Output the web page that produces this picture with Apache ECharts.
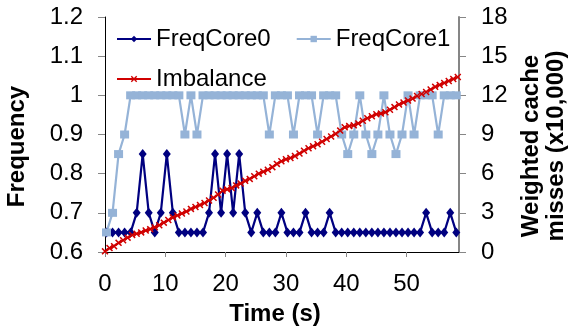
<!DOCTYPE html>
<html>
<head>
<meta charset="utf-8">
<script src="https://cdn.jsdelivr.net/npm/echarts@6/dist/echarts.min.js"></script>
<style>
  html, body { margin: 0; padding: 0; background: #fff; }
  #chart { width: 569px; height: 327px; }
</style>
</head>
<body>
<div id="chart"></div>
<script>
// sample times (s) of the two frequency series
const freqTime = [0.25, 1.25, 2.25, 3.25, 4.25, 5.25, 6.25, 7.25, 8.25, 9.25,
  10.25, 11.25, 12.25, 13.25, 14.25, 15.25, 16.25, 17.25, 18.25, 19.25,
  20.25, 21.25, 22.25, 23.25, 24.25, 25.25, 26.25, 27.25, 28.25, 29.25,
  30.25, 31.25, 32.25, 33.25, 34.25, 35.25, 36.25, 37.25, 38.25, 39.25,
  40.25, 41.25, 42.25, 43.25, 44.25, 45.25, 46.25, 47.25, 48.25, 49.25,
  50.25, 51.25, 52.25, 53.25, 54.25, 55.25, 56.25, 57.25, 58.25]

const freqCore0 = [0.65, 0.65, 0.65, 0.65, 0.65, 0.7, 0.85, 0.7, 0.65, 0.7,
  0.85, 0.7, 0.65, 0.65, 0.65, 0.65, 0.65, 0.7, 0.85, 0.7,
  0.85, 0.7, 0.85, 0.7, 0.65, 0.7, 0.65, 0.65, 0.65, 0.7,
  0.65, 0.65, 0.65, 0.7, 0.65, 0.65, 0.65, 0.7, 0.65, 0.65,
  0.65, 0.65, 0.65, 0.65, 0.65, 0.65, 0.65, 0.65, 0.65, 0.65,
  0.65, 0.65, 0.65, 0.7, 0.65, 0.65, 0.65, 0.7, 0.65]

const freqCore1 = [0.65, 0.7, 0.85, 0.9, 1, 1, 1, 1, 1, 1,
  1, 1, 1, 0.9, 1, 0.9, 1, 1, 1, 1,
  1, 1, 1, 1, 1, 1, 1, 0.9, 1, 1,
  1, 0.9, 1, 1, 1, 0.9, 1, 1, 1, 0.9,
  0.85, 0.9, 1, 0.9, 0.85, 0.9, 1, 0.9, 0.85, 0.9,
  1, 0.9, 1, 1, 1, 0.9, 1, 1, 1]

// imbalance is sampled more often
const imbTime = [0, 0.75, 1.5, 2.25, 3, 3.75, 4.5, 5.25, 6, 6.75,
  7.5, 8.25, 9, 9.75, 10.5, 11.25, 12, 12.75, 13.5, 14.25,
  15, 15.75, 16.5, 17.25, 18, 18.75, 19.5, 20.25, 21, 21.75,
  22.5, 23.25, 24, 24.75, 25.5, 26.25, 27, 27.75, 28.5, 29.25,
  30, 30.75, 31.5, 32.25, 33, 33.75, 34.5, 35.25, 36, 36.75,
  37.5, 38.25, 39, 39.75, 40.5, 41.25, 42, 42.75, 43.5, 44.25,
  45, 45.75, 46.5, 47.25, 48, 48.75, 49.5, 50.25, 51, 51.75,
  52.5, 53.25, 54, 54.75, 55.5, 56.25, 57, 57.75, 58.5]

const imbalance = [0.05, 0.3, 0.45, 0.7, 0.9, 1.1, 1.3, 1.4, 1.5, 1.65,
  1.75, 1.9, 2.05, 2.25, 2.45, 2.65, 2.8, 2.95, 3.1, 3.3,
  3.45, 3.6, 3.75, 3.95, 4.15, 4.4, 4.7, 4.8, 4.9, 5.1,
  5.25, 5.45, 5.6, 5.8, 6.0, 6.15, 6.3, 6.5, 6.75, 6.95,
  7.1, 7.2, 7.35, 7.55, 7.75, 7.95, 8.1, 8.25, 8.45, 8.65,
  8.85, 9.05, 9.3, 9.55, 9.65, 9.7, 9.85, 10.05, 10.25, 10.4,
  10.55, 10.6, 10.7, 10.9, 11.1, 11.3, 11.45, 11.6, 11.75, 11.95,
  12.1, 12.25, 12.45, 12.65, 12.8, 12.95, 13.1, 13.25, 13.4]

const timeTicks = [0, 10, 20, 30, 40, 50]

const FONT = 'Liberation Sans, Arial, sans-serif'
const crossSymbol = 'path://M0,1.5L1.5,0L5,3.5L8.5,0L10,1.5L6.5,5L10,8.5L8.5,10L5,6.5L1.5,10L0,8.5L3.5,5Z'

function pairs(xs, ys) {
  return ys.map((v, i) => [xs[i], v])
}

const chart = echarts.init(document.getElementById('chart'), null, { renderer: 'canvas' })

chart.setOption({
  animation: false,
  textStyle: { fontFamily: FONT },
  grid: {
    left: 105,
    right: 110,
    top: 17,
    bottom: 75,
    outerBoundsMode: 'none'
  },
  legend: [
    {
      data: ['FreqCore0', 'FreqCore1'],
      left: 116,
      top: 27,
      padding: 0,
      itemWidth: 34,
      itemHeight: 8,
      itemGap: 25,
      textStyle: { fontSize: 24, color: '#000', fontFamily: FONT }
    },
    {
      data: ['Imbalance'],
      left: 116,
      top: 67,
      padding: 0,
      itemWidth: 34,
      itemHeight: 8,
      textStyle: { fontSize: 24, color: '#000', fontFamily: FONT }
    }
  ],
  xAxis: {
    type: 'value',
    min: 0,
    max: 58.7,
    interval: 10,
    name: 'Time (s)',
    nameLocation: 'middle',
    nameGap: 50,
    nameTextStyle: { fontSize: 24, fontWeight: 'bold', color: '#000', padding: [0, 14, 0, 0] },
    axisLine: { lineStyle: { color: '#000', width: 1 } },
    axisTick: { length: 5, lineStyle: { color: '#868686' }, customValues: timeTicks },
    axisLabel: { fontSize: 24, color: '#000', margin: 20, customValues: timeTicks },
    splitLine: { show: false }
  },
  yAxis: [
    {
      type: 'value',
      min: 0.6,
      max: 1.2,
      interval: 0.1,
      name: 'Frequency',
      nameLocation: 'middle',
      nameGap: 76,
      nameTextStyle: { fontSize: 24, fontWeight: 'bold', color: '#000', padding: [0, 24, 0, 0] },
      axisLine: { show: true, lineStyle: { color: '#000', width: 1 } },
      axisTick: { show: true, length: 7, lineStyle: { color: '#868686' } },
      axisLabel: { fontSize: 24, color: '#000', margin: 22 },
      splitLine: { show: false }
    },
    {
      type: 'value',
      position: 'right',
      min: 0,
      max: 18,
      interval: 3,
      name: 'Weighted cache\nmisses (x10,000)',
      nameLocation: 'middle',
      nameGap: 55,
      nameTextStyle: { fontSize: 24, fontWeight: 'bold', color: '#000', lineHeight: 25, padding: [0, 23, 0, 0] },
      axisLine: { show: true, lineStyle: { color: '#868686', width: 2 } },
      axisTick: { show: true, length: 7, lineStyle: { color: '#868686' } },
      axisLabel: { fontSize: 24, color: '#000', margin: 22 },
      splitLine: { show: false }
    }
  ],
  series: [
    {
      name: 'FreqCore0',
      type: 'line',
      yAxisIndex: 0,
      data: pairs(freqTime, freqCore0),
      symbol: 'diamond',
      symbolSize: [8, 10],
      lineStyle: { color: '#000080', width: 2.2 },
      itemStyle: { color: '#000080' }
    },
    {
      name: 'FreqCore1',
      type: 'line',
      yAxisIndex: 0,
      data: pairs(freqTime, freqCore1),
      symbol: 'rect',
      symbolSize: [9, 8],
      lineStyle: { color: '#95b3d7', width: 2.2 },
      itemStyle: { color: '#95b3d7', borderWidth: 0 }
    },
    {
      name: 'Imbalance',
      type: 'line',
      yAxisIndex: 1,
      data: pairs(imbTime, imbalance),
      symbol: crossSymbol,
      symbolSize: 7,
      lineStyle: { color: '#d00000', width: 2 },
      itemStyle: { color: '#d00000' }
    }
  ]
})
</script>
</body>
</html>
